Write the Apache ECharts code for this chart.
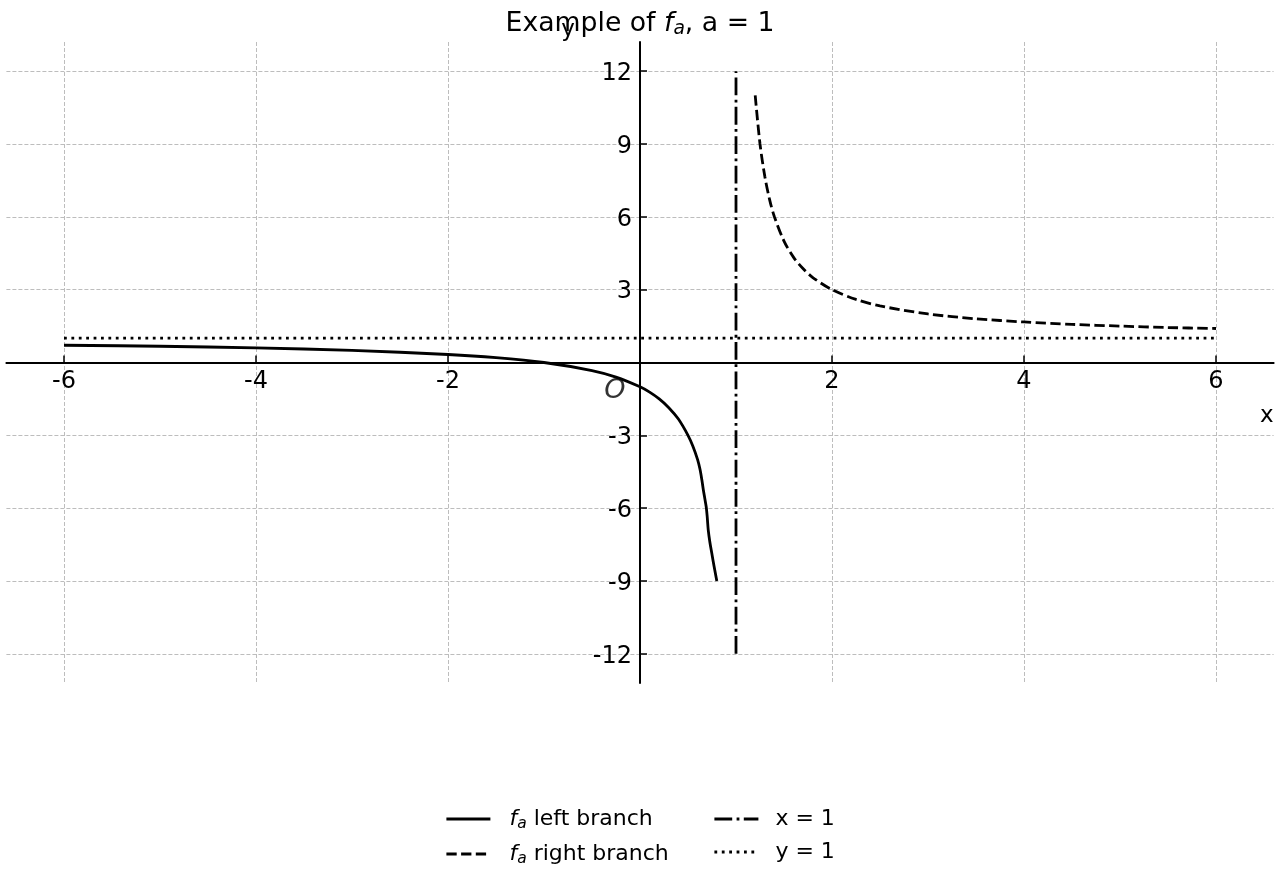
<!DOCTYPE html>
<html>
<head>
<meta charset="utf-8">
<script src="https://cdn.jsdelivr.net/npm/echarts@6/dist/echarts.min.js"></script>
<style>html,body{margin:0;padding:0;background:#fff}#c{width:1280px;height:880px}</style>
</head>
<body>
<div id="c"></div>
<script>
// Values
var leftX = [-6, -5, -4, -3, -2, -1.5, -1, -0.5, -0.25, 0, 0.1, 0.2, 0.3, 0.4, 0.5, 0.55, 0.6, 0.625, 0.645, 0.66, 0.675, 0.69, 0.7, 0.711, 0.728, 0.747, 0.772, 0.8];
var leftY = [0.71, 0.67, 0.6, 0.5, 0.33, 0.2, 0, -0.33, -0.6, -1, -1.22, -1.5, -1.86, -2.33, -3, -3.44, -4, -4.4, -4.85, -5.25, -5.6, -5.95, -6.35, -6.9, -7.4, -7.84, -8.4, -9];
var rightX = [1.2, 1.25, 1.3, 1.35, 1.4, 1.5, 1.6, 1.7, 1.8, 2, 2.25, 2.5, 3, 3.5, 4, 4.5, 5, 5.5, 6];
var rightY = [11, 9, 7.67, 6.71, 6, 5, 4.33, 3.86, 3.5, 3, 2.6, 2.33, 2, 1.8, 1.67, 1.57, 1.5, 1.44, 1.4];
var vAsymX = [1, 1];
var vAsymY = [-12, 12];
var hAsymX = [-6, 6];
var hAsymY = [1, 1];
var xTickVals = [-6, -4, -2, 0, 2, 4, 6];
var xLabelVals = [-6, -4, -2, 2, 4, 6];
var yTickVals = [-12, -9, -6, -3, 0, 3, 6, 9, 12];
var yLabelVals = [-12, -9, -6, -3, 3, 6, 9, 12];
var seriesNames = ['fa left branch', 'fa right branch', 'x = 1', 'y = 1'];

function zip(xs, ys) { return xs.map(function (x, i) { return [x, ys[i]]; }); }

var FF = 'DejaVu Sans';
var chart = echarts.init(document.getElementById('c'));

var legendRich = {
  n: { fontFamily: FF, fontSize: 22, color: '#000', lineHeight: 26 },
  i: { fontFamily: FF, fontSize: 22, fontStyle: 'italic', color: '#000', lineHeight: 26 },
  s: { fontFamily: FF, fontSize: 15.5, fontStyle: 'italic', color: '#000', lineHeight: 18, verticalAlign: 'bottom' }
};
function legendFmt(name) {
  if (name === 'fa left branch') return '{i|f}{s|a}{n| left branch}';
  if (name === 'fa right branch') return '{i|f}{s|a}{n| right branch}';
  return '{n|' + name + '}';
}
function legendCfg(names, left, pad) {
  return {
    data: names,
    orient: 'vertical', left: left, top: 808, padding: 0,
    itemWidth: 44, itemHeight: 14, itemGap: 11,
    formatter: legendFmt,
    itemStyle: { opacity: 0 },
    lineStyle: { width: 2.8 },
    textStyle: { padding: [0, 0, 0, pad], rich: legendRich }
  };
}

var option = {
  animation: false,
  backgroundColor: '#fff',
  title: {
    text: '{n|Example of }{i|f}{s|a}{n|, a = 1}',
    left: 'center',
    top: 4,
    textStyle: {
      fontWeight: 'normal',
      rich: {
        n: { fontFamily: FF, fontSize: 26.7, fontWeight: 'normal', color: '#000', lineHeight: 30 },
        i: { fontFamily: FF, fontSize: 26.7, fontWeight: 'normal', fontStyle: 'italic', color: '#000', lineHeight: 30 },
        s: { fontFamily: FF, fontSize: 18.7, fontWeight: 'normal', fontStyle: 'italic', color: '#000', lineHeight: 21, verticalAlign: 'bottom' }
      }
    }
  },
  legend: [legendCfg([seriesNames[0], seriesNames[1]], 445, 14), legendCfg([seriesNames[2], seriesNames[3]], 713, 12)],
  grid: { left: 6.4, right: 6.4, top: 42, bottom: 197, containLabel: false, outerBoundsMode: 'none' },
  xAxis: {
    type: 'value', min: -6.6, max: 6.6, position: 'bottom', offset: 0,
    name: 'x', nameLocation: 'end', nameGap: 0,
    nameTextStyle: { fontFamily: FF, fontSize: 23, color: '#000', align: 'right', verticalAlign: 'top', padding: [42, 0, 0, 0] },
    axisLine: { show: true, onZero: false, lineStyle: { color: '#000', width: 2 } },
    axisTick: { show: true, inside: true, length: 7, customValues: xTickVals, lineStyle: { color: '#000', width: 1.5 } },
    axisLabel: { customValues: xLabelVals, fontFamily: FF, fontSize: 24, color: '#000', margin: 7 },
    splitLine: { show: true, lineStyle: { color: '#bdbdbd', width: 1, type: [4, 2] } }
  },
  yAxis: {
    type: 'value', min: -13.2, max: 13.2, position: 'left', offset: 0,
    name: 'y', nameLocation: 'end', nameGap: 0,
    nameTextStyle: { fontFamily: FF, fontSize: 23, color: '#000', align: 'center', padding: [0, 144, 0, 0] },
    axisLine: { show: true, onZero: false, lineStyle: { color: '#000', width: 2 } },
    axisTick: { show: true, inside: true, length: 7, customValues: yTickVals, lineStyle: { color: '#000', width: 1.5 } },
    axisLabel: {
      customValues: yLabelVals, margin: 8,
      formatter: function (v) { return '{v|' + v + '}'; },
      rich: { v: { fontFamily: FF, fontSize: 24, color: '#000', padding: [5, 0, 0, 0] } }
    },
    splitLine: { show: true, lineStyle: { color: '#bdbdbd', width: 1, type: [4, 2] } }
  },
  series: [
    {
      name: seriesNames[0], type: 'line', data: zip(leftX, leftY), symbol: 'none', showSymbol: false,
      smooth: 0.3,
      lineStyle: { color: '#000', width: 2.8, type: 'solid' }, itemStyle: { color: '#000' }, z: 5
    },
    {
      name: seriesNames[1], type: 'line', data: zip(rightX, rightY), symbol: 'none', showSymbol: false,
      smooth: 0.3,
      lineStyle: { color: '#000', width: 2.8, type: [10.3, 4.4] }, itemStyle: { color: '#000' }, z: 5
    },
    {
      name: seriesNames[2], type: 'line', data: zip(vAsymX, vAsymY), symbol: 'none', showSymbol: false,
      lineStyle: { color: '#000', width: 2.8, type: [17.8, 4.4, 2.8, 4.4] }, itemStyle: { color: '#000' }, z: 5
    },
    {
      name: seriesNames[3], type: 'line', data: zip(hAsymX, hAsymY), symbol: 'none', showSymbol: false,
      lineStyle: { color: '#000', width: 2.8, type: [2.8, 4.6] }, itemStyle: { color: '#000' }, z: 5
    },
    {
      name: 'origin', type: 'scatter', data: [[0, 0]], symbolSize: 1, silent: true,
      itemStyle: { color: 'rgba(0,0,0,0)' },
      label: { show: true, position: 'inside', offset: [-25, 28], formatter: 'O',
        fontFamily: FF, fontSize: 27, fontStyle: 'italic', color: '#000' }
    }
  ]
};
chart.setOption(option);
// move the axes so they cross at the origin
var o = chart.convertToPixel({ gridIndex: 0 }, [0, 0]);
var c = chart.convertToPixel({ gridIndex: 0 }, [-6.6, -13.2]);
chart.setOption({
  xAxis: { offset: -(c[1] - o[1]) },
  yAxis: { offset: -(o[0] - c[0]) }
});
</script>
</body>
</html>
